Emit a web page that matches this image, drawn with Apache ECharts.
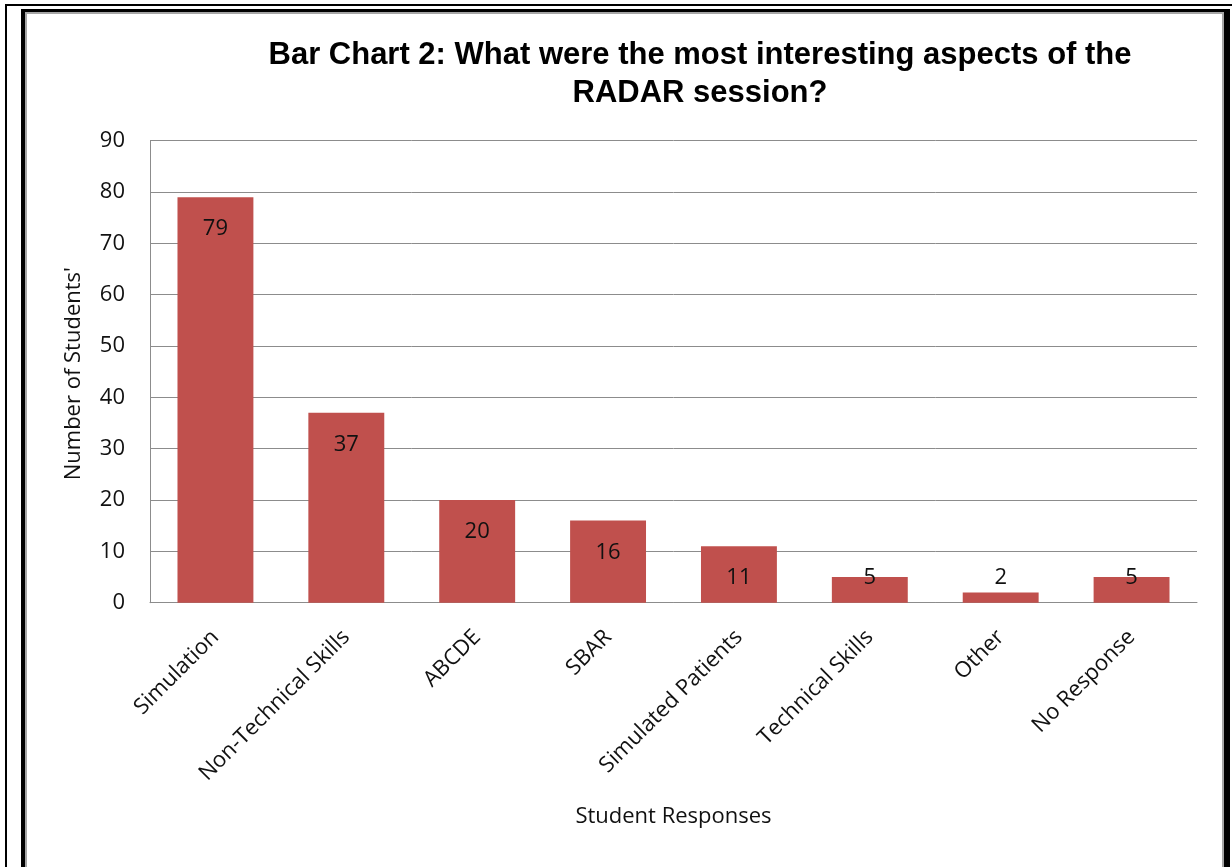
<!DOCTYPE html>
<html>
<head>
<meta charset="utf-8">
<title>Bar Chart 2</title>
<script src="https://cdn.jsdelivr.net/npm/echarts@6/dist/echarts.min.js"></script>
<style>
  html, body { margin: 0; padding: 0; background: #ffffff; }
  #chart { width: 1232px; height: 867px; }
</style>
</head>
<body>
<div id="chart"></div>
<script>
// Survey responses: most interesting aspects of the RADAR session
const categories = [
  'Simulation', 'Non-Technical Skills', 'ABCDE', 'SBAR',
  'Simulated Patients', 'Technical Skills', 'Other', 'No Response'
];
const studentCounts = [79, 37, 20, 16, 11, 5, 2, 5];
const yTicks = [0, 10, 20, 30, 40, 50, 60, 70, 80, 90];

const bodyFont = '"Open Sans", Carlito, Lato, sans-serif';
const bodySize = 22;
const barColor = '#C0504D';
const textColor = '#111111';
const gridColor = '#8c8c8c';

// Counts too small to hold a label inside the bar get it placed just above the baseline area
const seriesData = studentCounts.map(function (v) {
  if (v < 8) {
    return { value: v, label: { position: 'insideBottom', distance: 14 } };
  }
  return { value: v };
});

const chart = echarts.init(document.getElementById('chart'), null, { renderer: 'canvas' });

chart.setOption({
  animation: false,
  backgroundColor: '#ffffff',
  title: {
    text: 'Bar Chart 2: What were the most interesting aspects of the\nRADAR session?',
    left: 695,
    top: 31,
    textAlign: 'center',
    textStyle: {
      fontFamily: '"Liberation Sans", Arial, sans-serif',
      fontWeight: 'bold',
      fontSize: 31,
      lineHeight: 38,
      color: '#000000',
      align: 'center'
    }
  },
  grid: {
    left: 150,
    right: 35,
    top: 140.7,
    bottom: 264.3,
    containLabel: false
  },
  xAxis: {
    type: 'category',
    data: categories,
    name: 'Student Responses',
    nameLocation: 'middle',
    nameGap: 203,
    nameTextStyle: { fontFamily: bodyFont, fontSize: bodySize, color: textColor },
    axisLine: { show: true, lineStyle: { color: gridColor, width: 1 } },
    axisTick: { show: false },
    axisLabel: {
      rotate: 45,
      interval: 0,
      margin: 31,
      fontFamily: bodyFont,
      fontSize: bodySize,
      color: textColor
    }
  },
  yAxis: {
    type: 'value',
    min: 0,
    max: 90,
    interval: 10,
    name: "Number of Students'",
    nameLocation: 'middle',
    nameGap: 65,
    nameTextStyle: { fontFamily: bodyFont, fontSize: bodySize, color: textColor, padding: [0, 0, 0, -4] },
    axisLine: { show: true, lineStyle: { color: gridColor, width: 1 } },
    axisTick: { show: false },
    splitLine: { show: true, lineStyle: { color: gridColor, width: 1 } },
    axisLabel: {
      margin: 25,
      fontFamily: bodyFont,
      fontSize: bodySize,
      color: textColor,
      formatter: function (v) { return yTicks.indexOf(v) >= 0 ? String(v) : ''; }
    }
  },
  series: [{
    type: 'bar',
    data: seriesData,
    barWidth: '58%',
    itemStyle: { color: barColor },
    label: {
      show: true,
      position: 'insideTop',
      distance: 21,
      fontFamily: bodyFont,
      fontSize: bodySize,
      color: textColor
    }
  }],
  graphic: [
    // thin outer rule
    { type: 'rect', shape: { x: 5, y: 4, width: 2, height: 863 }, style: { fill: '#000' }, silent: true },
    { type: 'rect', shape: { x: 5, y: 4, width: 1227, height: 2 }, style: { fill: '#000' }, silent: true },
    // heavy frame
    { type: 'rect', shape: { x: 21, y: 9, width: 4, height: 858 }, style: { fill: '#000' }, silent: true },
    { type: 'rect', shape: { x: 21, y: 9, width: 1209, height: 3 }, style: { fill: '#000' }, silent: true },
    { type: 'rect', shape: { x: 1224, y: 9, width: 6, height: 858 }, style: { fill: '#000' }, silent: true },
    // grey inner edge of the frame
    { type: 'rect', shape: { x: 25, y: 12, width: 2, height: 855 }, style: { fill: '#a6a6a6' }, silent: true },
    { type: 'rect', shape: { x: 25, y: 12, width: 1199, height: 2 }, style: { fill: '#a6a6a6' }, silent: true },
    { type: 'rect', shape: { x: 1222, y: 12, width: 2, height: 855 }, style: { fill: '#a6a6a6' }, silent: true }
  ]
});
</script>
</body>
</html>
